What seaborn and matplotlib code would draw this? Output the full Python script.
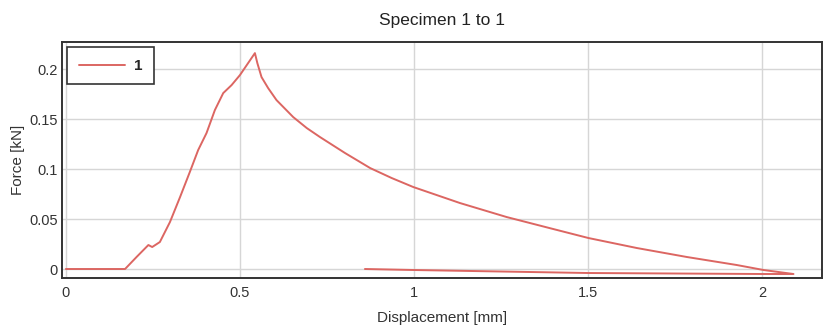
import numpy as np
import pandas as pd
import matplotlib
matplotlib.use("Agg")
import matplotlib.pyplot as plt
import seaborn as sns

disp = [0.0, 0.10, 0.170, 0.203, 0.237, 0.248, 0.270, 0.299, 0.328, 0.356,
        0.380, 0.404, 0.428, 0.452, 0.476, 0.500, 0.543, 0.550, 0.562, 0.581,
        0.605, 0.653, 0.692, 0.730, 0.802, 0.874, 0.936, 0.998, 1.065, 1.132,
        1.266, 1.400, 1.501, 1.640, 1.784, 1.927, 2.004, 2.090, 2.000, 1.500,
        1.000, 0.859]
force = [0.0, 0.0, 0.0, 0.012, 0.024, 0.022, 0.027, 0.047, 0.072, 0.097,
         0.119, 0.136, 0.159, 0.176, 0.184, 0.194, 0.216, 0.206, 0.192, 0.181,
         0.169, 0.152, 0.141, 0.132, 0.116, 0.101, 0.091, 0.082, 0.074, 0.066,
         0.052, 0.040, 0.031, 0.021, 0.012, 0.004, -0.001, -0.005, -0.005,
         -0.004, -0.001, 0.0]

df = pd.DataFrame({"Displacement": disp, "Force": force,
                   "Specimen": ["1"] * len(disp)})

sns.set_style("whitegrid")
plt.rcParams["font.family"] = ["Liberation Sans", "DejaVu Sans"]

fig = plt.figure(figsize=(8.25, 3.29), dpi=100)
ax = fig.add_axes([0.0752, 0.155, 0.9212, 0.717])

sns.lineplot(data=df, x="Displacement", y="Force", hue="Specimen",
             palette=["#dc6662"], sort=False, estimator=None,
             linewidth=1.4, ax=ax)

ax.set_xlim(-0.011, 2.172)
ax.set_ylim(-0.009, 0.227)
ax.set_xticks([0, 0.5, 1, 1.5, 2])
ax.set_xticklabels(["0", "0.5", "1", "1.5", "2"])
ax.set_yticks([0, 0.05, 0.1, 0.15, 0.2])
ax.set_yticklabels(["0", "0.05", "0.1", "0.15", "0.2"])
ax.tick_params(axis="x", length=0, labelsize=10.5, colors="#333333", pad=6)
ax.tick_params(axis="y", length=0, labelsize=10.5, colors="#333333", pad=3)
ax.grid(color="#d6d6d6", linewidth=1)

for s in ax.spines.values():
    s.set_color("#333333")
    s.set_linewidth(1.4)

ax.set_xlabel("Displacement [mm]", fontsize=11, color="#333333", labelpad=8)
ax.set_ylabel("Force [kN]", fontsize=11, color="#333333", labelpad=3)
ax.set_title("Specimen 1 to 1", fontsize=12.5, color="#222222", pad=12)

leg = ax.legend(loc="upper left", title=None, fancybox=False,
                edgecolor="#333333", framealpha=1, handlelength=3.0,
                handletextpad=0.6, borderpad=0.75, borderaxespad=0.35,
                prop={"weight": "bold", "size": 11})
leg.get_frame().set_linewidth(1.2)

fig.savefig("out.png", dpi=100)
